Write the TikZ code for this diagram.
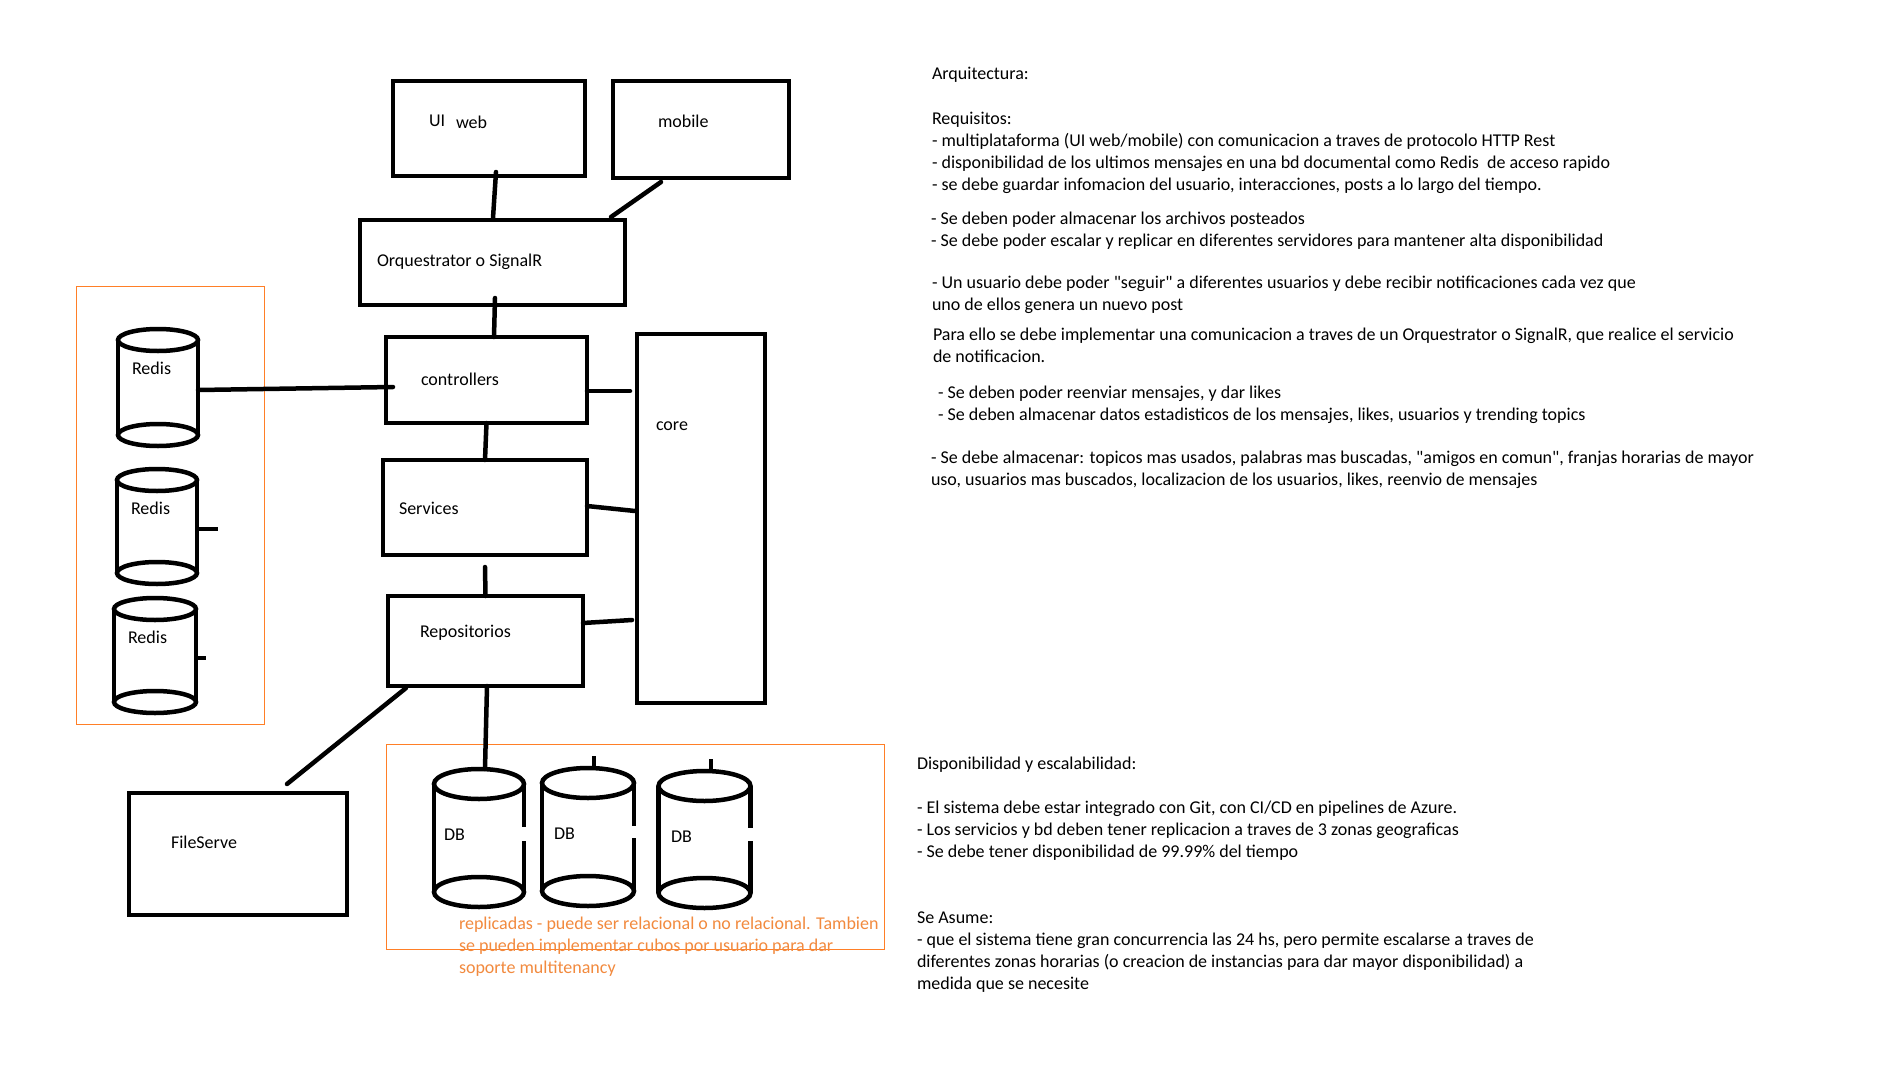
\documentclass[tikz,border=0pt]{standalone}
\usepackage{fontspec}
\setmainfont{Carlito}[Ligatures=TeXOff]
\definecolor{pntorange}{HTML}{FF7F27}
\definecolor{txtorange}{HTML}{F28A3E}
\tikzset{
  thickline/.style={line width=4.5pt, draw=black},
  conn/.style={line width=4.5pt, draw=black, line cap=round},
  boxst/.style={draw=black, line width=4.5pt, rectangle, inner sep=0pt, outer sep=0pt, anchor=north west},
  orangebox/.style={draw=pntorange, line width=1pt, rectangle, inner sep=0pt, outer sep=0pt, anchor=north west},
  cylbox/.style={inner sep=0pt, outer sep=0pt, rectangle},
  txt/.style={inner sep=0pt, outer sep=0pt, anchor=base west, font=\fontsize{18pt}{22pt}\selectfont, text=black},
  otxt/.style={txt, text=txtorange}
}
% name, cx, ytop, ybot, rx, ry, gap1, gap2
\newcommand{\mycyl}[8]{%
  \node[cylbox, minimum width={2*#5*1pt}, minimum height={(#4-#3+2*#6)*1pt}] (#1) at (#2,{(#3+#4)/2}) {};
  \draw[thickline] (#2,#3) ellipse [x radius=#5, y radius=#6];
  \draw[thickline] (#2,#4) ellipse [x radius=#5, y radius=#6];
  \draw[thickline] ({#2-#5},#3) -- ({#2-#5},#4);
  \draw[thickline] ({#2+#5},#3) -- ({#2+#5},#7);
  \draw[thickline] ({#2+#5},#8) -- ({#2+#5},#4);
}
\begin{document}
\begin{tikzpicture}[x=1pt,y=-1pt]
\useasboundingbox (0,0) rectangle (1896,1076);
\fill[white] (0,0) rectangle (1896,1076);

% orange groups
\node[orangebox, minimum width=188pt, minimum height=438pt] (redisgroup) at (76,286) {};
\node[orangebox, minimum width=498pt, minimum height=205pt] (dbgroup) at (386,744) {};

% boxes
\node[boxst, minimum width=192pt, minimum height=95pt] (uiweb) at (393,81) {};
\node[boxst, minimum width=176pt, minimum height=97pt] (mobile) at (613,81) {};
\node[boxst, minimum width=265pt, minimum height=85pt] (orq) at (360,220) {};
\node[boxst, minimum width=201pt, minimum height=86pt] (ctrl) at (386,337) {};
\node[boxst, minimum width=128pt, minimum height=369pt] (core) at (637,334) {};
\node[boxst, minimum width=204pt, minimum height=95pt] (services) at (383,460) {};
\node[boxst, minimum width=195pt, minimum height=90pt] (repos) at (388,596) {};
\node[boxst, minimum width=218pt, minimum height=122pt] (fileserve) at (129,793) {};

% cylinders
\mycyl{redis1}{158}{340}{435}{40}{11}{390}{390}
\mycyl{redis2}{157}{480}{573}{40}{11}{530}{530}
\mycyl{redis3}{155}{609}{702}{41}{11}{655}{655}
\mycyl{db1}{479}{784}{892}{45}{15}{827}{841}
\mycyl{db2}{588}{783}{891}{46}{15}{826}{838}
\mycyl{db3}{704.5}{786}{893}{46}{15}{828}{841}

% box labels
\node[txt] (uitxt) at (429,126) {UI};
\node[txt] (webtxt) at (456,128) {web};
\node[txt] (mobiletxt) at (658,127) {mobile};
\node[txt] (orqtxt) at (377,266) {Orquestrator o SignalR};
\node[txt] (ctrltxt) at (421,385) {controllers};
\node[txt] (coretxt) at (656,430) {core};
\node[txt] (servtxt) at (399,514) {Services};
\node[txt] (repotxt) at (420,637) {Repositorios};
\node[txt] (filetxt) at (171,848) {FileServe};
\node[txt] (r1txt) at (132,374) {Redis};
\node[txt] (r2txt) at (131,514) {Redis};
\node[txt] (r3txt) at (128,643) {Redis};
\node[txt] (d1txt) at (444,840) {DB};
\node[txt] (d2txt) at (554,839) {DB};
\node[txt] (d3txt) at (671,842) {DB};

% connectors
\draw[conn] ([xshift=7pt,yshift=4pt]uiweb.south) -- ([xshift=0.5pt,yshift=2pt]orq.north);
\draw[conn] ([xshift=-14pt,yshift=3pt]orq.north east) -- ([xshift=48pt,yshift=-4pt]mobile.south west);
\draw[conn] ([xshift=2.5pt,yshift=7pt]orq.south) -- ([xshift=7.5pt]ctrl.north);
\draw[conn] ([yshift=-2.5pt]redis1.east) -- ([xshift=7pt,yshift=-7pt]ctrl.west);
\draw[conn] ([yshift=-11pt]ctrl.east) -- ([xshift=-7pt,yshift=127.5pt]core.west);
\draw[conn] ([yshift=1.5pt]services.east) -- ([xshift=-2pt,yshift=7.5pt]core.west);
\draw[conn] ([yshift=18pt]repos.east) -- ([xshift=-5pt,yshift=-101.5pt]core.west);
\draw[conn] (ctrl.south) -- (services.north);
\draw[conn] ([yshift=-12pt]services.south) -- (repos.north);
\draw[conn] ([xshift=1.5pt]repos.south) -- ([xshift=6pt]db1.north);
\draw[conn] ([xshift=18pt,yshift=-2pt]repos.south west) -- ([xshift=-60pt,yshift=9pt]fileserve.north east);
\draw[thickline] ([xshift=6pt]db2.north) -- ++(0,-12);
\draw[thickline] ([xshift=6.5pt]db3.north) -- ++(0,-12);
\draw[thickline] ([yshift=-2.5pt]redis2.east) -- ++(21,0);
\draw[thickline] ([yshift=-2.5pt]redis3.east) -- ++(10,0);

% orange note
\node[otxt] (o1) at (459,929) {replicadas - puede ser relacional o no relacional. Tambien};
\node[otxt] (o2) at (459,951) {se pueden implementar cubos por usuario para dar};
\node[otxt] (o3) at (459,973) {soporte multitenancy};

% right text
\node[txt] (t1) at (932,79) {Arquitectura:};
\node[txt] (t2) at (932,124) {Requisitos:};
\node[txt] (t3) at (932,146) {- multiplataforma (UI web/mobile) con comunicacion a traves de protocolo HTTP Rest};
\node[txt] (t4) at (932,168) {- disponibilidad de los ultimos mensajes en una bd documental como Redis\ \ de acceso rapido};
\node[txt] (t5) at (932,190) {- se debe guardar infomacion del usuario, interacciones, posts a lo largo del tiempo.};
\node[txt] (t6) at (931,224) {- Se deben poder almacenar los archivos posteados};
\node[txt] (t7) at (931,246) {- Se debe poder escalar y replicar en diferentes servidores para mantener alta disponibilidad};
\node[txt] (t8) at (932,288) {- Un usuario debe poder "seguir" a diferentes usuarios y debe recibir notificaciones cada vez que};
\node[txt] (t9) at (932,310) {uno de ellos genera un nuevo post};
\node[txt] (t10) at (933,340) {Para ello se debe implementar una comunicacion a traves de un Orquestrator o SignalR, que realice el servicio};
\node[txt] (t11) at (933,362) {de notificacion.};
\node[txt] (t12) at (938,398) {- Se deben poder reenviar mensajes, y dar likes};
\node[txt] (t13) at (938,420) {- Se deben almacenar datos estadisticos de los mensajes, likes, usuarios y trending topics};
\node[txt] (t14) at (931,463) {- Se debe almacenar: topicos mas usados, palabras mas buscadas, "amigos en comun", franjas horarias de mayor};
\node[txt] (t15) at (931,485) {uso, usuarios mas buscados, localizacion de los usuarios, likes, reenvio de mensajes};

\node[txt] (b1) at (917,769) {Disponibilidad y escalabilidad:};
\node[txt] (b2) at (917,813) {- El sistema debe estar integrado con Git, con CI/CD en pipelines de Azure.};
\node[txt] (b3) at (917,835) {- Los servicios y bd deben tener replicacion a traves de 3 zonas geograficas};
\node[txt] (b4) at (917,857) {- Se debe tener disponibilidad de 99.99\% del tiempo};
\node[txt] (b5) at (917,923) {Se Asume:};
\node[txt] (b6) at (917,945) {- que el sistema tiene gran concurrencia las 24 hs, pero permite escalarse a traves de};
\node[txt] (b7) at (917,967) {diferentes zonas horarias (o creacion de instancias para dar mayor disponibilidad) a};
\node[txt] (b8) at (917,989) {medida que se necesite};
\end{tikzpicture}
\end{document}
